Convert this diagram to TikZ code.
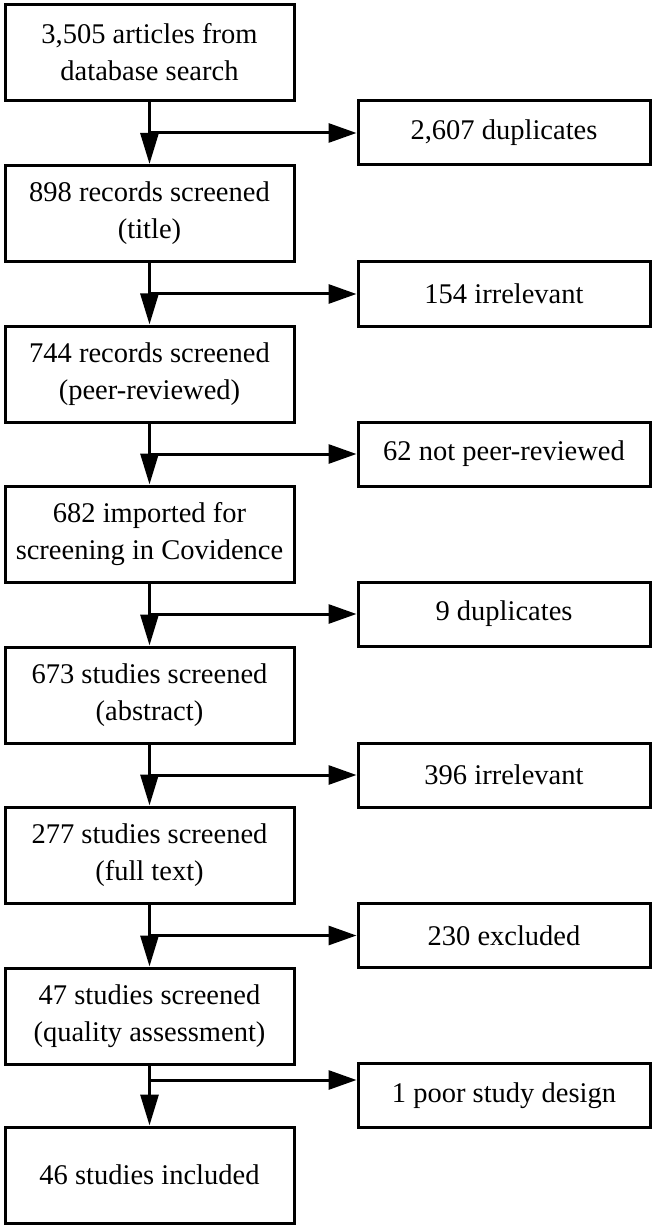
\documentclass[tikz,border=0pt]{standalone}
\usepackage{fontspec}
\setmainfont{Liberation Serif}
\usetikzlibrary{arrows.meta}
\tikzset{
  leftbox/.style={draw=black, line width=3pt, minimum width=289pt, minimum height=96pt, inner sep=2pt, align=center, font=\fontsize{28.5}{37}\selectfont},
  rightbox/.style={draw=black, line width=3pt, minimum width=292pt, minimum height=64pt, inner sep=2pt, align=center, font=\fontsize{28.5}{37}\selectfont},
  flow/.style={line width=3pt, -{Triangle[length=31pt,width=18pt]}},
  side/.style={line width=3pt, -{Triangle[length=28pt,width=19pt]}}
}
\begin{document}
\begin{tikzpicture}[x=1pt,y=-1pt]
\useasboundingbox[fill=white] (0,0) rectangle (652,1230);
% left column
\node[leftbox] (b1) at (149.5,52.5) {3,505 articles from\\database search};
\node[leftbox] (b2) at (149.5,213.5) {898 records screened\\(title)};
\node[leftbox] (b3) at (149.5,374) {744 records screened\\(peer-reviewed)};
\node[leftbox] (b4) at (149.5,534) {682 imported for\\screening in Covidence};
\node[leftbox] (b5) at (149.5,695) {673 studies screened\\(abstract)};
\node[leftbox] (b6) at (149.5,855) {277 studies screened\\(full text)};
\node[leftbox] (b7) at (149.5,1016) {47 studies screened\\(quality assessment)};
\node[leftbox] (b8) at (149.5,1175) {46 studies included};
% right column
\node[rightbox] (r1) at (504,133) {2,607 duplicates};
\node[rightbox] (r2) at (504,294) {154 irrelevant};
\node[rightbox] (r3) at (504,454) {62 not peer-reviewed};
\node[rightbox] (r4) at (504,614) {9 duplicates};
\node[rightbox] (r5) at (504,775) {396 irrelevant};
\node[rightbox] (r6) at (504,935.5) {230 excluded};
\node[rightbox] (r7) at (504,1095.5) {1 poor study design};
% vertical flow
\draw[flow] (b1.south) -- (b2.north);
\draw[flow] (b2.south) -- (b3.north);
\draw[flow] (b3.south) -- (b4.north);
\draw[flow] (b4.south) -- (b5.north);
\draw[flow] (b5.south) -- (b6.north);
\draw[flow] (b6.south) -- (b7.north);
\draw[flow] (b7.south) -- (b8.north);
% side branches
\draw[side] (b1.south |- r1.west) -- (r1.west);
\draw[side] (b2.south |- r2.west) -- (r2.west);
\draw[side] (b3.south |- r3.west) -- (r3.west);
\draw[side] (b4.south |- r4.west) -- (r4.west);
\draw[side] (b5.south |- r5.west) -- (r5.west);
\draw[side] (b6.south |- r6.west) -- (r6.west);
\coordinate (j7) at (149.5,1080);
\draw[side] (j7) -- (j7 -| r7.west);
\end{tikzpicture}
\end{document}
